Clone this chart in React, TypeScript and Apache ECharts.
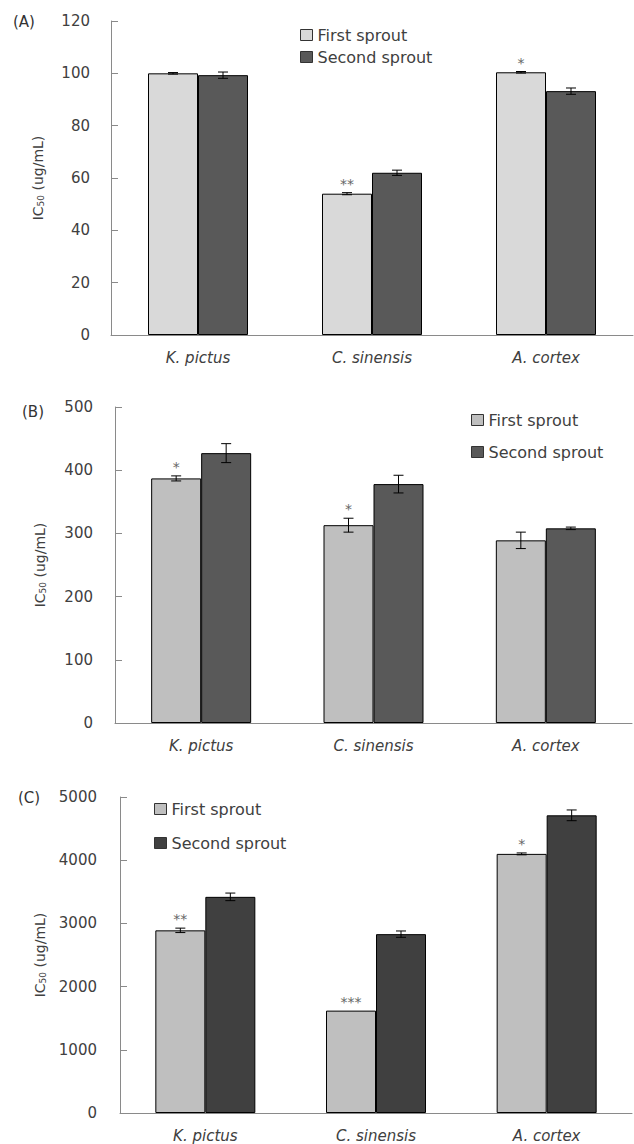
import React, { useEffect, useRef } from "react";
import * as echarts from "echarts";

const categories = ["K. pictus", "C. sinensis", "A. cortex"];
const seriesNames = ["First sprout", "Second sprout"];

// Panel A
const aFirst = [100, 54, 100.4];
const aFirstErr = [0.3, 0.4, 0.3];
const aSecond = [99.3, 62, 93.2];
const aSecondErr = [1.2, 1, 1.2];
const aStars = ["", "**", "*"];

// Panel B
const bFirst = [387, 313, 289];
const bFirstErr = [4, 11, 13];
const bSecond = [427, 378, 308];
const bSecondErr = [15, 14, 2];
const bStars = ["*", "*", ""];

// Panel C
const cFirst = [2890, 1620, 4100];
const cFirstErr = [35, 0, 15];
const cSecond = [3420, 2830, 4710];
const cSecondErr = [60, 50, 85];
const cStars = ["**", "***", "*"];

const yMaxA = 120, yIntA = 20;
const yMaxB = 500, yIntB = 100;
const yMaxC = 5000, yIntC = 1000;

const FONT = "DejaVu Sans";
const TXT = "#404040";
const AXIS = "#8a8a8a";

export default function App() {
  const ref = useRef<HTMLDivElement>(null);
  useEffect(() => {
    if (!ref.current) return;
    const chart = echarts.init(ref.current, null, { renderer: "svg" });

    const panels = [
      { first: aFirst, fe: aFirstErr, second: aSecond, se: aSecondErr, stars: aStars, max: yMaxA, interval: yIntA,
        c1: "#d9d9d9", c2: "#595959", grid: { left: 111, width: 522, top: 21, height: 314 }, labelMargin: 21, nameGap: 66,
        legend: { left: 295, top: 22, itemGap: 6, lineHeight: 16 } },
      { first: bFirst, fe: bFirstErr, second: bSecond, se: bSecondErr, stars: bStars, max: yMaxB, interval: yIntB,
        c1: "#bfbfbf", c2: "#595959", grid: { left: 115, width: 517, top: 407, height: 316 }, labelMargin: 22, nameGap: 68,
        legend: { left: 466, top: 407, itemGap: 16, lineHeight: 16 } },
      { first: cFirst, fe: cFirstErr, second: cSecond, se: cSecondErr, stars: cStars, max: yMaxC, interval: yIntC,
        c1: "#bfbfbf", c2: "#404040", grid: { left: 120, width: 512, top: 797, height: 316 }, labelMargin: 23, nameGap: 72,
        legend: { left: 149, top: 796, itemGap: 18, lineHeight: 16 } },
    ];

    const grids: any[] = [];
    const xAxes: any[] = [];
    const yAxes: any[] = [];
    const series: any[] = [];
    const legends: any[] = [];

    panels.forEach((p, gi) => {
      grids.push({ ...p.grid, containLabel: false });
      xAxes.push({
        type: "category", gridIndex: gi, data: categories,
        axisLine: { lineStyle: { color: AXIS, width: 1 } },
        axisTick: { show: false },
        axisLabel: { color: TXT, fontFamily: FONT, fontStyle: "italic", fontSize: 15, margin: 15 },
      });
      yAxes.push({
        type: "value", gridIndex: gi, min: 0, max: p.max, interval: p.interval,
        name: "{a|IC}{b|50}{a| (ug/mL)}", nameLocation: "middle", nameGap: p.nameGap, nameRotate: 90,
        nameTextStyle: {
          rich: {
            a: { fontFamily: FONT, fontSize: 14, color: TXT },
            b: { fontFamily: FONT, fontSize: 9, color: TXT, padding: [6, 0, 0, 0] },
          },
        },
        axisLine: { show: true, lineStyle: { color: AXIS, width: 1 } },
        axisTick: { show: true, inside: true, length: 7, lineStyle: { color: AXIS } },
        splitLine: { show: false },
        axisLabel: { color: TXT, fontFamily: FONT, fontSize: 15, margin: p.labelMargin, formatter: (v: number) => String(v) },
      });
      const vals = [p.first, p.second];
      const errs = [p.fe, p.se];
      const cols = [p.c1, p.c2];
      [0, 1].forEach((si) => {
        series.push({
          type: "bar", name: seriesNames[si], xAxisIndex: gi, yAxisIndex: gi,
          data: vals[si], barWidth: 50, barGap: "0%",
          itemStyle: { color: cols[si], borderColor: "#000", borderWidth: 1 },
          emphasis: { disabled: true },
        });
      });
      [0, 1].forEach((si) => {
        const off = si === 0 ? -25 : 25;
        series.push({
          type: "custom", xAxisIndex: gi, yAxisIndex: gi, z: 10,
          data: vals[si].map((v, i) => [i, v, errs[si][i]]),
          renderItem: (params: any, api: any) => {
            const ci = api.value(0), v = api.value(1), e = api.value(2);
            const base = api.coord([ci, v]);
            const x = base[0] + off;
            const yT = api.coord([ci, v + e])[1];
            const yB = api.coord([ci, v - e])[1];
            const children: any[] = [];
            const ls = { stroke: "#000", lineWidth: 1 };
            if (e > 0) {
              children.push({ type: "line", shape: { x1: x, y1: yT, x2: x, y2: yB }, style: ls });
              children.push({ type: "line", shape: { x1: x - 5, y1: yT, x2: x + 5, y2: yT }, style: ls });
              children.push({ type: "line", shape: { x1: x - 5, y1: yB, x2: x + 5, y2: yB }, style: ls });
            }
            const star = si === 0 ? p.stars[params.dataIndex] : "";
            if (star) {
              children.push({
                type: "text",
                style: { text: star, x, y: Math.min(yT, base[1]) - 2, align: "center", verticalAlign: "bottom",
                  fontFamily: FONT, fontSize: 14, fill: "#666" },
              });
            }
            return { type: "group", children };
          },
        });
      });
      legends.push({
        orient: "vertical", left: p.legend.left, top: p.legend.top, itemGap: p.legend.itemGap,
        itemWidth: 12, itemHeight: 11, icon: "rect", selectedMode: false,
        textStyle: { color: TXT, fontFamily: FONT, fontSize: 16, lineHeight: p.legend.lineHeight },
        data: [
          { name: seriesNames[0], itemStyle: { color: p.c1, borderColor: "#333", borderWidth: 1 } },
          { name: seriesNames[1], itemStyle: { color: p.c2, borderColor: "#333", borderWidth: 1 } },
        ],
      });
    });

    chart.setOption({
      animation: false,
      backgroundColor: "#fff",
      grid: grids,
      xAxis: xAxes,
      yAxis: yAxes,
      legend: legends,
      series,
      graphic: [
        { type: "text", left: 13, top: 14, style: { text: "(A)", fontFamily: FONT, fontSize: 15, fill: "#333" } },
        { type: "text", left: 22, top: 404, style: { text: "(B)", fontFamily: FONT, fontSize: 15, fill: "#333" } },
        { type: "text", left: 18, top: 790, style: { text: "(C)", fontFamily: FONT, fontSize: 15, fill: "#333" } },
      ],
    });
    return () => chart.dispose();
  }, []);
  return <div ref={ref} style={{ position: "absolute", left: 0, top: 0, width: 634, height: 1144 }} />;
}
